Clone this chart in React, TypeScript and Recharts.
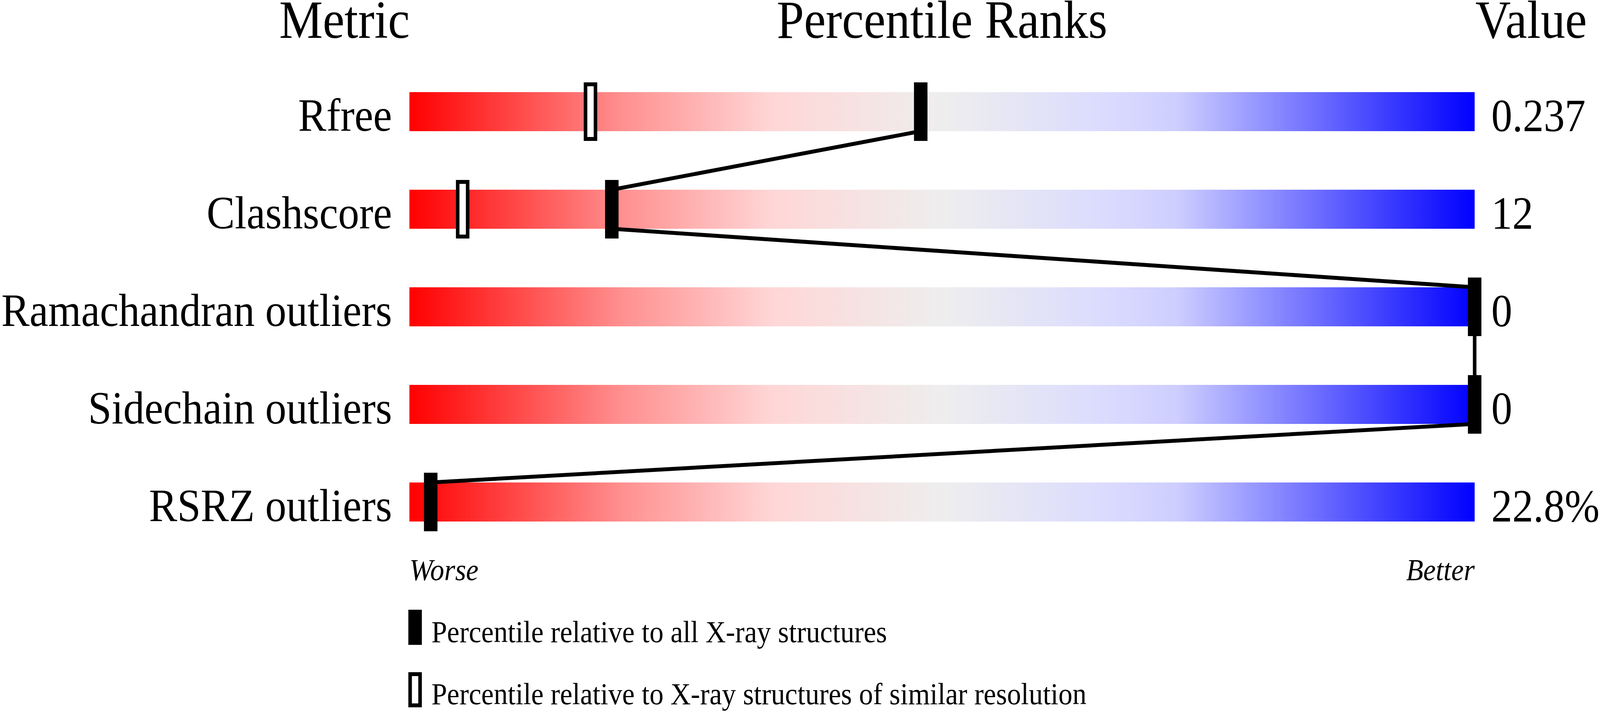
import React, { useState } from "react";
import { ComposedChart, Bar, Scatter, Line, XAxis, YAxis, LabelList } from "recharts";

// ---- data ----
const metrics = ["Rfree", "Clashscore", "Ramachandran outliers", "Sidechain outliers", "RSRZ outliers"];
const metricValues = ["0.237", "12", "0", "0", "22.8%"];
const pctAll = [48, 19, 100, 100, 2];
const pctSimilar: (number | null)[] = [17, 5, null, null, null];
const scaleEnds = ["Worse", "Better"];
const headers = ["Metric", "Percentile Ranks", "Value"];
const legendLabels = [
  "Percentile relative to all X-ray structures",
  "Percentile relative to X-ray structures of similar resolution",
];
const PCT_MAX = 100;

// ---- layout constants ----
const W = 4506;
const H = 1824;
const M = { top: 161, right: 353, bottom: 313, left: 0 };
const Y_AXIS_W = 1153;
const X_AXIS_H = 100;
const BAR = 100;
const BAND = (H - M.top - M.bottom - X_AXIS_H) / metrics.length;
const HALF = BAR / 2 / BAND; // half bar thickness in row units
const FONT = "'Liberation Serif', 'Times New Roman', serif";

const rows = metrics.map((m, i) => ({
  metric: m,
  value: metricValues[i],
  full: PCT_MAX,
  pAll: pctAll[i],
  pSim: pctSimilar[i],
}));

// connector polyline: from bottom edge of one bar to top edge of the next
const connector: { pos: number; p: number }[] = [];
pctAll.forEach((p, i) => {
  if (i > 0) connector.push({ pos: i - HALF, p });
  if (i < pctAll.length - 1) connector.push({ pos: i + HALF, p });
});

const MetricTick = (props: any) => {
  const { x, y, payload } = props;
  return (
    <text x={x - 49} y={y + 49} textAnchor="end" fontSize={119} fontFamily={FONT} fill="#000">
      {payload.value}
    </text>
  );
};

const EndTick = (props: any) => {
  const { x, y, payload } = props;
  const isStart = payload.value === 0;
  return (
    <text
      x={x}
      y={y + 75}
      textAnchor={isStart ? "start" : "end"}
      fontSize={79}
      fontStyle="italic"
      fontFamily={FONT}
      fill="#000"
    >
      {isStart ? scaleEnds[0] : scaleEnds[1]}
    </text>
  );
};

const ValueLabel = (props: any) => {
  const vb = props.viewBox && props.viewBox.width != null ? props.viewBox : props;
  const { x, y, width, height } = vb;
  return (
    <text x={x + width + 47} y={y + height / 2 + 50} textAnchor="start" fontSize={118} fontFamily={FONT} fill="#000">
      {props.value}
    </text>
  );
};

const FilledMark = (props: any) => {
  const { cx, cy } = props;
  if (cx == null || cy == null || isNaN(cx)) return <g />;
  return <rect x={cx - 19} y={cy - 75} width={38} height={150} fill="#000" />;
};

const HollowMark = (props: any) => {
  const { cx, cy } = props;
  if (cx == null || cy == null || isNaN(cx)) return <g />;
  return <rect x={cx - 14} y={cy - 70} width={28} height={140} fill="#fff" stroke="#000" strokeWidth={10} />;
};

function fitScale() {
  if (typeof window === "undefined") return { sx: 1, sy: 1 };
  const sx = Math.min(1, window.innerWidth / W);
  const sy = Math.min(1, window.innerHeight / H);
  return { sx, sy };
}

export default function App() {
  const [{ sx, sy }] = useState(fitScale);
  const plotLeft = M.left + Y_AXIS_W;
  const plotRight = W - M.right;
  return (
    <div style={{ width: W * sx, height: H * sy, overflow: "hidden", background: "#fff" }}>
      <style>{"html,body{margin:0;background:#fff;overflow:hidden}"}</style>
      <div
        style={{
          position: "relative",
          width: W,
          height: H,
          transform: `scale(${sx}, ${sy})`,
          transformOrigin: "0 0",
        }}
      >
        <ComposedChart width={W} height={H} data={rows} layout="vertical" margin={M}>
          <defs>
            <linearGradient id="rankGrad" x1="0" y1="0" x2="1" y2="0">
              <stop offset="0" stopColor="#FF0000" />
              <stop offset="0.2" stopColor="#FF9090" />
              <stop offset="0.34" stopColor="#FFD6D6" />
              <stop offset="0.5" stopColor="#EEEEEE" />
              <stop offset="0.66" stopColor="#DADAFF" />
              <stop offset="0.72" stopColor="#CECEFF" />
              <stop offset="1" stopColor="#0000FF" />
            </linearGradient>
          </defs>
          <XAxis
            type="number"
            domain={[0, PCT_MAX]}
            ticks={[0, PCT_MAX]}
            interval={0}
            axisLine={false}
            tickLine={false}
            tickSize={0}
            tickMargin={0}
            height={X_AXIS_H}
            tick={<EndTick />}
          />
          <YAxis
            yAxisId="cat"
            type="category"
            dataKey="metric"
            width={Y_AXIS_W}
            axisLine={false}
            tickLine={false}
            tickSize={0}
            tickMargin={0}
            interval={0}
            allowDuplicatedCategory={false}
            tick={<MetricTick />}
          />
          <YAxis
            yAxisId="pos"
            type="number"
            dataKey="pos"
            domain={[-0.5, metrics.length - 0.5]}
            hide
          />
          <Bar yAxisId="cat" dataKey="full" barSize={BAR} fill="url(#rankGrad)" isAnimationActive={false} activeBar={false}>
            <LabelList dataKey="value" content={<ValueLabel />} />
          </Bar>
          <Line
            yAxisId="pos"
            data={connector}
            dataKey="p"
            type="linear"
            stroke="#000"
            strokeWidth={10}
            dot={false}
            activeDot={false}
            isAnimationActive={false}
          />
          <Scatter yAxisId="cat" dataKey="pSim" shape={HollowMark} isAnimationActive={false} />
          <Scatter yAxisId="cat" dataKey="pAll" shape={FilledMark} isAnimationActive={false} />
        </ComposedChart>
        <svg
          width={W}
          height={H}
          style={{ position: "absolute", left: 0, top: 0, pointerEvents: "none" }}
        >
          <g fontFamily={FONT} fill="#000">
            <text x={plotLeft + 1} y={97} textAnchor="end" fontSize={138}>{headers[0]}</text>
            <text x={(plotLeft + plotRight) / 2} y={97} textAnchor="middle" fontSize={138}>{headers[1]}</text>
            <text x={plotRight + 2} y={97} textAnchor="start" fontSize={138}>{headers[2]}</text>
          </g>
          <g fontFamily={FONT} fill="#000">
            <rect x={plotLeft - 3} y={1562} width={38} height={90} fill="#000" />
            <text x={plotLeft + 62} y={1645} fontSize={79}>{legendLabels[0]}</text>
            <rect x={plotLeft + 2} y={1727} width={28} height={80} fill="#fff" stroke="#000" strokeWidth={10} />
            <text x={plotLeft + 62} y={1804} fontSize={79}>{legendLabels[1]}</text>
          </g>
        </svg>
      </div>
    </div>
  );
}
